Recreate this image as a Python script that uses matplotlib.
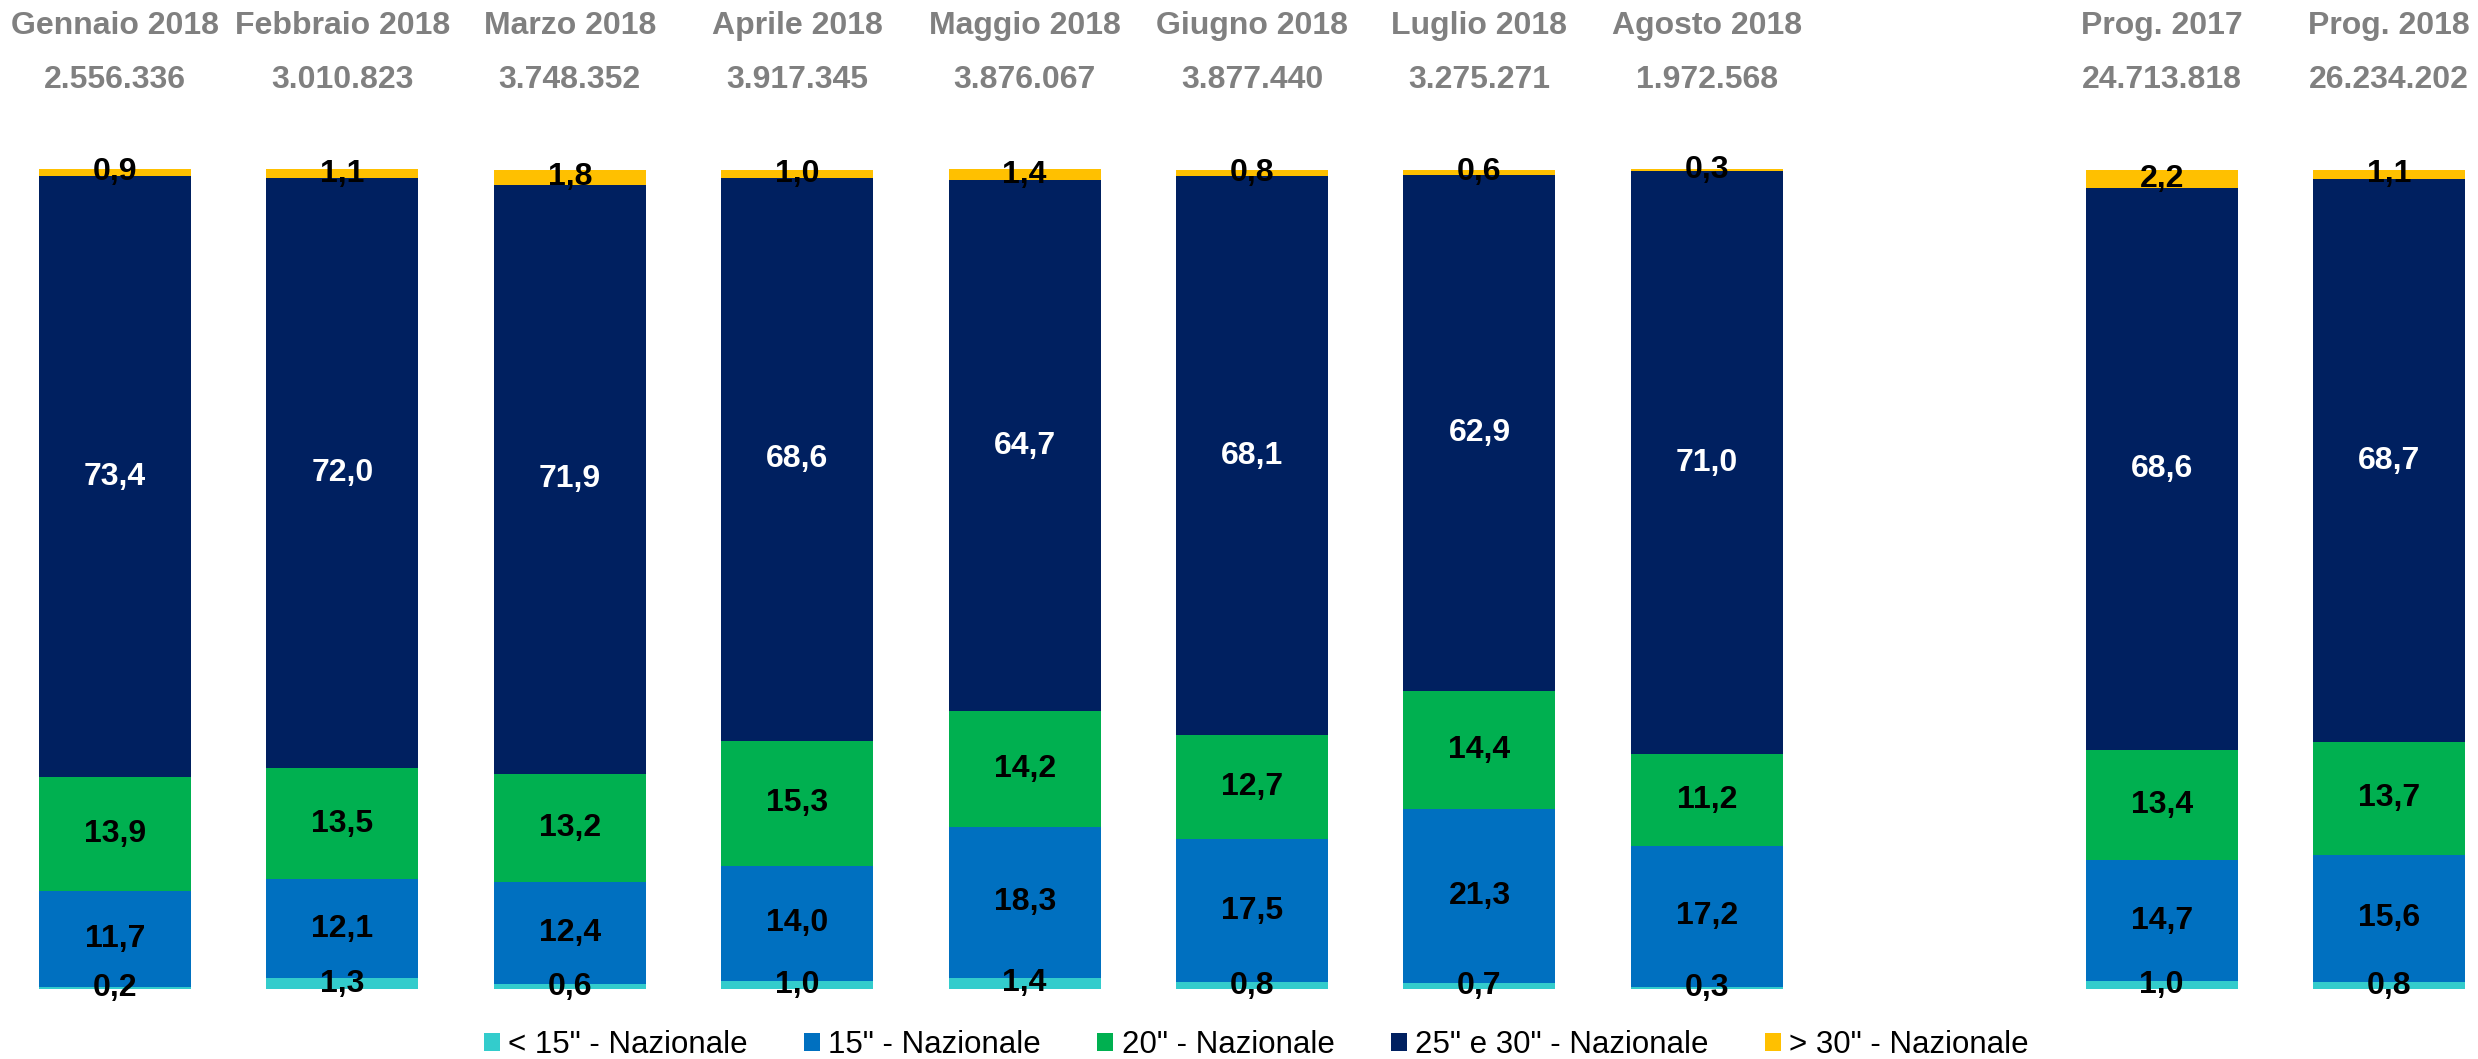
import matplotlib
matplotlib.use("Agg")
import matplotlib.pyplot as plt
from matplotlib.patches import Patch
import numpy as np

plt.rcParams["font.family"] = ["Liberation Sans", "DejaVu Sans"]

periods = ["Gennaio 2018", "Febbraio 2018", "Marzo 2018", "Aprile 2018", "Maggio 2018",
           "Giugno 2018", "Luglio 2018", "Agosto 2018", "Prog. 2017", "Prog. 2018"]
totals = ["2.556.336", "3.010.823", "3.748.352", "3.917.345", "3.876.067",
          "3.877.440", "3.275.271", "1.972.568", "24.713.818", "26.234.202"]

series = ["< 15\" - Nazionale", "15\" - Nazionale", "20\" - Nazionale",
          "25\" e 30\" - Nazionale", "> 30\" - Nazionale"]
lt15 = [0.2, 1.3, 0.6, 1.0, 1.4, 0.8, 0.7, 0.3, 1.0, 0.8]
s15 = [11.7, 12.1, 12.4, 14.0, 18.3, 17.5, 21.3, 17.2, 14.7, 15.6]
s20 = [13.9, 13.5, 13.2, 15.3, 14.2, 12.7, 14.4, 11.2, 13.4, 13.7]
s25_30 = [73.4, 72.0, 71.9, 68.6, 64.7, 68.1, 62.9, 71.0, 68.6, 68.7]
gt30 = [0.9, 1.1, 1.8, 1.0, 1.4, 0.8, 0.6, 0.3, 2.2, 1.1]

colors = ["#33CCCC", "#0070C0", "#00B050", "#002060", "#FFC000"]
label_colors = ["black", "black", "black", "white", "black"]

fig = plt.figure(figsize=(24.78, 10.59), dpi=100)
ax = fig.add_axes([0, 0.0661, 1, 0.7743])

# monthly bars, then one empty slot, then the two cumulative bars
x = np.array([i if i < 8 else i + 1 for i in range(len(periods))])
bottom = np.zeros(len(periods))
for vals, col, tcol in zip([lt15, s15, s20, s25_30, gt30], colors, label_colors):
    v = np.array(vals)
    ax.bar(x, v, bottom=bottom, width=0.668, color=col, zorder=2)
    for xi, b, val in zip(x, bottom, v):
        ax.text(xi, b + val / 2, f"{val:.1f}".replace(".", ","), ha="center", va="center",
                fontsize=23, fontweight="bold", color=tcol, zorder=4)
    bottom += v

ax.set_xlim(-0.5057, 10.391)
ax.set_ylim(0, 100)
ax.axis("off")

for xi, p, t in zip(x, periods, totals):
    xf = ax.transData.transform((xi, 0))[0] / fig.bbox.width
    fig.text(xf, 1 - 26 / 1059, p, ha="center", va="center", fontsize=23,
             fontweight="bold", color="#808080")
    fig.text(xf, 1 - 80 / 1059, t, ha="center", va="center", fontsize=23,
             fontweight="bold", color="#808080")

handles = [Patch(facecolor=c, edgecolor="none") for c in colors]
fig.legend(handles, series, loc="center", bbox_to_anchor=(0.507, 1 - 1045 / 1059),
           ncol=5, frameon=False, fontsize=22.5, handlelength=0.51, handleheight=0.51,
           handletextpad=0.27, columnspacing=1.8, borderpad=0)

fig.savefig("out.png", dpi=100)
